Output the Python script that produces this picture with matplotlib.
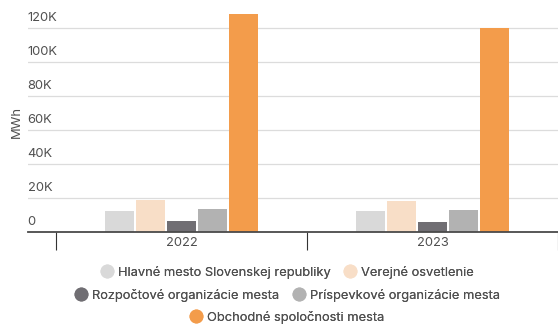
import numpy as np
import matplotlib
matplotlib.use("Agg")
import matplotlib.pyplot as plt
import matplotlib.transforms as mtransforms
from matplotlib.lines import Line2D

# energy use per group of city organisations (MWh)
years = ["2022", "2023"]
series_names = [
    "Hlavné mesto Slovenskej republiky",
    "Verejné osvetlenie",
    "Rozpočtové organizácie mesta",
    "Príspevkové organizácie mesta",
    "Obchodné spoločnosti mesta",
]
hlavne_mesto = [12400, 12400]
verejne_osvetlenie = [18700, 18100]
rozpoctove_org = [6300, 5700]
prispevkove_org = [13400, 12800]
obchodne_spol = [128400, 120200]

colors = ["#d9d9d9", "#f8dec7", "#706e73", "#b2b2b2", "#f39c4b"]
y_ticks = [0, 20000, 40000, 60000, 80000, 100000, 120000]
y_tick_labels = ["0", "20K", "40K", "60K", "80K", "100K", "120K"]

TEXT_COLOR = "#505050"
FS = 9.3
plt.rcParams["font.family"] = ["Inter", "DejaVu Sans"]

fig = plt.figure(figsize=(5.58, 3.24), dpi=100)
ax = fig.add_axes([0.0496, 0.2849, 0.9504, 0.701])

all_series = [hlavne_mesto, verejne_osvetlenie, rozpoctove_org,
              prispevkove_org, obchodne_spol]
x = np.arange(len(years))
step = 0.1232
for i, (vals, col) in enumerate(zip(all_series, colors)):
    ax.bar(x + (i - 2) * step, vals, width=0.118, color=col, zorder=3)

ax.set_xlim(-0.613, 1.461)
ax.set_ylim(0, 134000)

# y axis: labels sit inside the plot, just above each gridline
ax.set_yticks(y_ticks)
ax.set_yticklabels(y_tick_labels)
ax.tick_params(axis="y", length=0, pad=0, labelsize=FS, labelcolor=TEXT_COLOR)
offset = mtransforms.ScaledTranslation(0, 4 / 100, fig.dpi_scale_trans)
for lab in ax.get_yticklabels():
    lab.set_horizontalalignment("left")
    lab.set_verticalalignment("bottom")
    lab.set_transform(lab.get_transform() + offset)
ax.grid(axis="y", color="#dcdcdc", linewidth=0.9, zorder=0)

# x axis: year labels centred, ticks between the groups
ax.set_xticks(x)
ax.set_xticklabels(years)
ax.set_xticks([-0.5, 0.5, 1.5], minor=True)
ax.tick_params(axis="x", which="major", length=0, pad=4, labelsize=FS,
               labelcolor=TEXT_COLOR)
ax.tick_params(axis="x", which="minor", length=13, width=0.8, color="#333333")

for side in ["top", "right", "left"]:
    ax.spines[side].set_visible(False)
ax.spines["bottom"].set_color("#4a4a4a")
ax.spines["bottom"].set_linewidth(1.3)
ax.spines["bottom"].set_zorder(4)

fig.text(16.7 / 558, 1 - 122 / 324, "MWh", rotation=90, ha="center",
         va="center", fontsize=FS, color=TEXT_COLOR)

# legend rows, wrapped and centred under the plot
handles = [Line2D([], [], linestyle="none", marker="o", markersize=9,
                  markerfacecolor=c, markeredgecolor=c) for c in colors]
rows = [[0, 1], [2, 3], [4]]
row_y = [1 - 272.5 / 324, 1 - 295 / 324, 1 - 317.5 / 324]
for idx, yy in zip(rows, row_y):
    leg = fig.legend([handles[k] for k in idx], [series_names[k] for k in idx],
                     loc="center", bbox_to_anchor=(0.516, yy), ncol=len(idx),
                     frameon=False, fontsize=FS, handlelength=0.8,
                     handletextpad=0.45, columnspacing=1.1, borderpad=0,
                     labelcolor=TEXT_COLOR)
    fig.add_artist(leg)

fig.savefig("out.png", dpi=100)
